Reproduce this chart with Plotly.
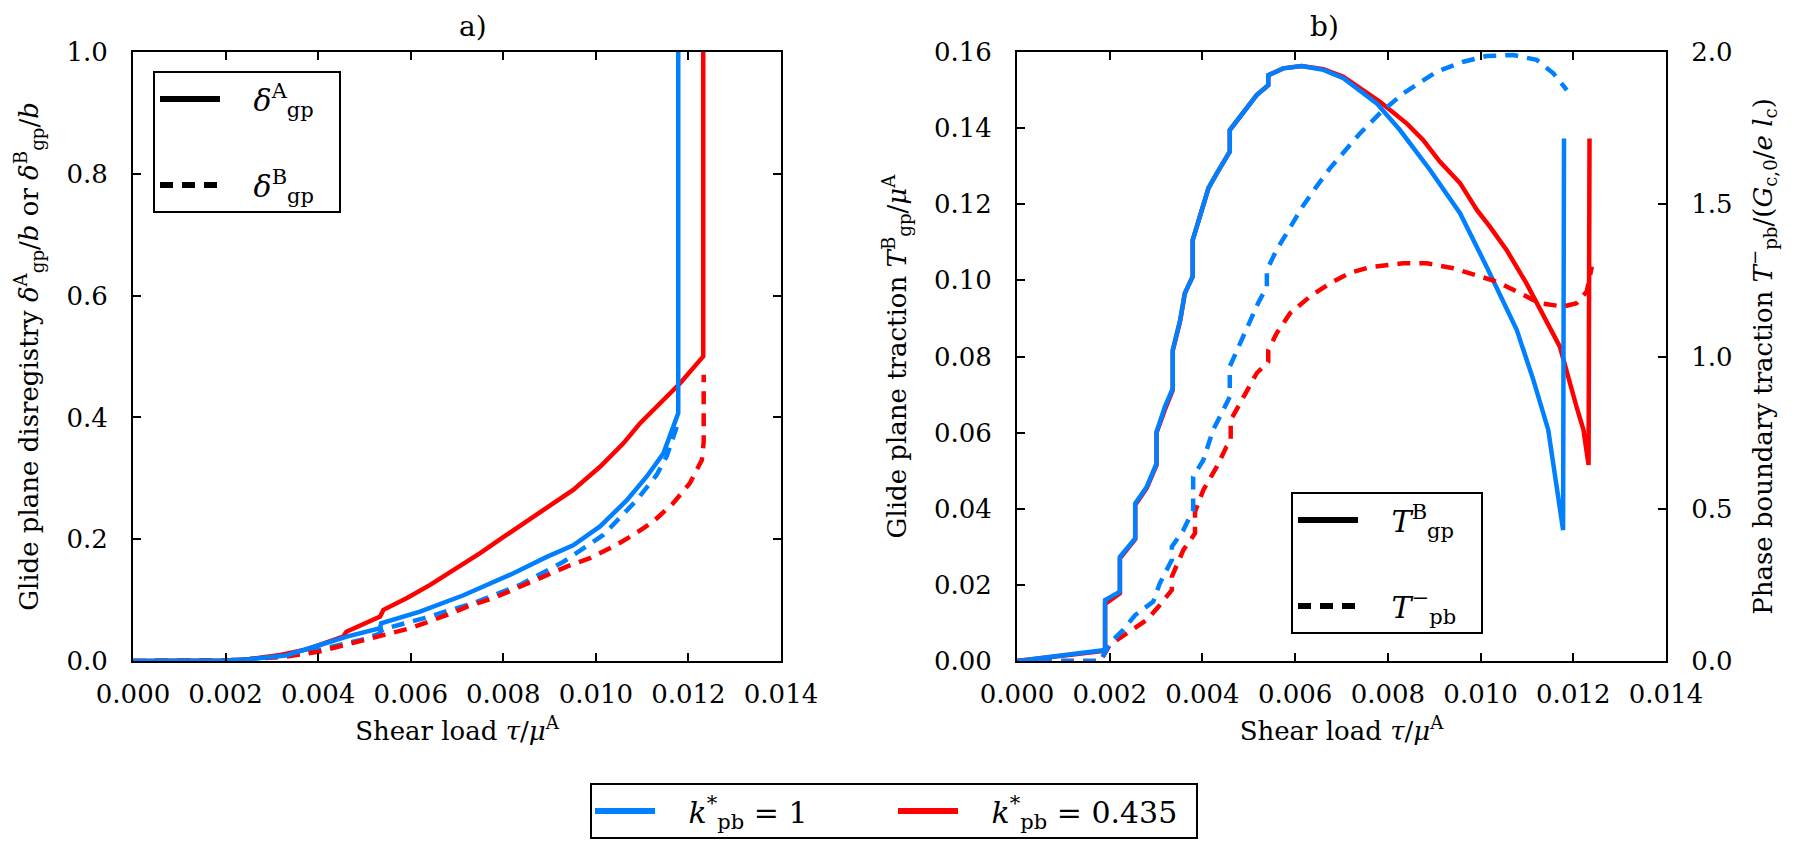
import plotly.graph_objects as go

# ---------------- data: panel a) ----------------
tau_a_blue_A = [0, 0.001, 0.002, 0.0025, 0.003, 0.0033, 0.0039, 0.00462, 0.00534, 0.00536, 0.0062, 0.00714,
                0.00822, 0.00894, 0.00951, 0.01009, 0.01067, 0.0111, 0.01146, 0.01178, 0.01178]
dA_blue = [0, 0.0003, 0.001, 0.003, 0.006, 0.009, 0.023, 0.040, 0.054, 0.062, 0.081, 0.108,
           0.144, 0.171, 0.190, 0.221, 0.264, 0.303, 0.341, 0.407, 1.0]

tau_a_blue_B = [0, 0.001, 0.002, 0.0025, 0.003, 0.0033, 0.004, 0.005, 0.0053, 0.0054, 0.00627, 0.00735,
                0.00836, 0.0093, 0.01016, 0.01088, 0.01131, 0.01153, 0.01175]
dB_blue = [0, 0.0003, 0.001, 0.003, 0.005, 0.008, 0.018, 0.036, 0.044, 0.052, 0.070, 0.095,
           0.125, 0.163, 0.207, 0.264, 0.305, 0.336, 0.385]

tau_a_red_A = [0, 0.001, 0.002, 0.0025, 0.003, 0.00318, 0.00375, 0.00454, 0.00461, 0.00534, 0.00541,
               0.00591, 0.00642, 0.00692, 0.0075, 0.00807, 0.00865, 0.00915, 0.00951, 0.01009, 0.01059,
               0.01095, 0.01139, 0.01182, 0.01225, 0.01232, 0.01232]
dA_red = [0, 0.0003, 0.001, 0.003, 0.007, 0.010, 0.019, 0.040, 0.048, 0.073, 0.084,
          0.103, 0.125, 0.149, 0.177, 0.207, 0.237, 0.264, 0.281, 0.319, 0.357,
          0.390, 0.423, 0.456, 0.494, 0.50, 1.0]

tau_a_red_B = [0, 0.001, 0.002, 0.0025, 0.003, 0.0033, 0.004, 0.005, 0.006, 0.0068, 0.00721, 0.00778,
               0.00879, 0.00937, 0.00987, 0.01038, 0.01081, 0.01124, 0.01167, 0.01203, 0.01229,
               0.01233, 0.01233]
dB_red = [0, 0.0003, 0.001, 0.003, 0.005, 0.007, 0.015, 0.034, 0.054, 0.076, 0.089, 0.103,
          0.136, 0.155, 0.169, 0.188, 0.207, 0.229, 0.259, 0.292, 0.330, 0.36, 0.47]

# ---------------- data: panel b) ----------------
tau_b_blue_T = [0, 0.0019, 0.0019, 0.00222, 0.00222, 0.00255, 0.00255, 0.0028, 0.00301, 0.00301, 0.00319,
                0.00336, 0.00336, 0.00352, 0.00362, 0.00379, 0.00379, 0.00395, 0.00413, 0.00431, 0.00459,
                0.00459, 0.00488, 0.00517, 0.00542, 0.00542, 0.00574, 0.00614, 0.00661, 0.00704, 0.00776,
                0.00826, 0.00891, 0.00956, 0.01013, 0.01078, 0.01114, 0.01146, 0.01178, 0.0118]
T_gp_blue = [0, 0.0029, 0.016, 0.0182, 0.0274, 0.0322, 0.0414, 0.0458, 0.0519, 0.0602, 0.0668,
             0.0716, 0.0817, 0.0896, 0.0966, 0.101, 0.1106, 0.1167, 0.1242, 0.1281, 0.1338,
             0.1395, 0.1443, 0.1487, 0.1513, 0.1539, 0.1557, 0.1563, 0.1553, 0.1531, 0.1465,
             0.1395, 0.1290, 0.1176, 0.1036, 0.0870, 0.0738, 0.0607, 0.0344, 0.1373]

tau_b_red_T = [0, 0.0019, 0.0019, 0.00222, 0.00222, 0.00255, 0.00255, 0.0028, 0.00301, 0.00301, 0.00319,
               0.00336, 0.00336, 0.00352, 0.00362, 0.00379, 0.00379, 0.00395, 0.00413, 0.00431, 0.00459,
               0.00459, 0.00488, 0.00517, 0.00542, 0.00542, 0.00574, 0.00614, 0.00661, 0.00704, 0.00783,
               0.00841, 0.00876, 0.00912, 0.00956, 0.00992, 0.0102, 0.01056, 0.01099, 0.0115, 0.01171,
               0.01207, 0.01222, 0.01233, 0.01235]
T_gp_red = [0, 0.0027, 0.015, 0.0178, 0.027, 0.032, 0.041, 0.0455, 0.0515, 0.060, 0.066,
            0.0712, 0.0815, 0.0894, 0.0966, 0.101, 0.1106, 0.1167, 0.1242, 0.1281, 0.1338,
            0.1395, 0.1443, 0.1487, 0.1513, 0.1539, 0.1557, 0.1563, 0.1555, 0.1535, 0.1469,
            0.1412, 0.1369, 0.1312, 0.1255, 0.1185, 0.1141, 0.1080, 0.0992, 0.0870, 0.0826,
            0.0668, 0.0607, 0.0515, 0.1373]

tau_b_blue_P = [0, 0.0018, 0.002, 0.00229, 0.00255, 0.00294, 0.00308, 0.00334, 0.00334, 0.00359, 0.0038,
                0.0038, 0.00402, 0.00423, 0.00445, 0.00459, 0.00459, 0.00481, 0.00503, 0.0052, 0.00539,
                0.00539, 0.0056, 0.00589, 0.00618, 0.00646, 0.00675, 0.0074, 0.00783, 0.00833, 0.00905,
                0.00963, 0.01013, 0.01071, 0.01121, 0.01157, 0.01186]
T_pb_blue = [0, 0.0, 0.058, 0.102, 0.151, 0.195, 0.255, 0.332, 0.375, 0.430, 0.496,
             0.605, 0.660, 0.759, 0.824, 0.868, 0.967, 1.043, 1.120, 1.175, 1.229,
             1.284, 1.350, 1.426, 1.497, 1.558, 1.618, 1.733, 1.799, 1.864, 1.935,
             1.968, 1.987, 1.99, 1.974, 1.930, 1.875]

tau_b_red_P = [0, 0.0018, 0.002, 0.00237, 0.0028, 0.00305, 0.00334, 0.00334, 0.00359, 0.00384, 0.00384,
               0.00402, 0.00431, 0.00452, 0.00461, 0.00461, 0.00488, 0.00517, 0.00542, 0.00542, 0.0056,
               0.00589, 0.00632, 0.00675, 0.00718, 0.00761, 0.00833, 0.00884, 0.00941, 0.00992, 0.01035,
               0.01085, 0.01128, 0.01178, 0.01207, 0.01229, 0.0124]
T_pb_red = [0, 0.0, 0.053, 0.091, 0.135, 0.178, 0.233, 0.277, 0.365, 0.419, 0.49,
            0.562, 0.638, 0.704, 0.72, 0.791, 0.868, 0.945, 0.983, 1.02, 1.076,
            1.142, 1.197, 1.240, 1.275, 1.293, 1.306, 1.306, 1.290, 1.268, 1.246,
            1.208, 1.175, 1.164, 1.175, 1.213, 1.295]

BLUE = "#0080FF"
RED = "#FF0000"
LW = 4.5
DASH = "13px,9px"
FONT = "DejaVu Serif"

fig = go.Figure()

def add(x, y, color, dash, xa, ya):
    fig.add_trace(go.Scatter(x=x, y=y, mode="lines", xaxis=xa, yaxis=ya, showlegend=False,
                             line=dict(color=color, width=LW, dash=dash), hoverinfo="skip"))

# panel a
add(tau_a_blue_B, dB_blue, BLUE, DASH, "x", "y")
add(tau_a_red_B, dB_red, RED, DASH, "x", "y")
add(tau_a_red_A, dA_red, RED, "solid", "x", "y")
add(tau_a_blue_A, dA_blue, BLUE, "solid", "x", "y")
# panel b
add(tau_b_red_P, T_pb_red, RED, DASH, "x2", "y3")
add(tau_b_blue_P, T_pb_blue, BLUE, DASH, "x2", "y3")
add(tau_b_red_T, T_gp_red, RED, "solid", "x2", "y2")
add(tau_b_blue_T, T_gp_blue, BLUE, "solid", "x2", "y2")

# legend entries
def leg(name, color, dash, legend, group):
    fig.add_trace(go.Scatter(x=[None], y=[None], mode="lines", name=name, legend=legend,
                             legendgroup=group, line=dict(color=color, width=6, dash=dash)))

leg("   <i>δ</i><sup>A</sup><sub>gp</sub>  ", "black", "solid", "legend", "a1")
leg("   <i>δ</i><sup>B</sup><sub>gp</sub>  ", "black", DASH, "legend", "a2")
leg("   <i>T</i><sup>B</sup><sub>gp</sub>  ", "black", "solid", "legend2", "b1")
leg("   <i>T</i><sup>−</sup><sub>pb</sub>  ", "black", DASH, "legend2", "b2")
leg("   <i>k</i><sup>*</sup><sub>pb</sub> = 1", BLUE, "solid", "legend3", "c1")
leg("   <i>k</i><sup>*</sup><sub>pb</sub> = 0.435", RED, "solid", "legend3", "c2")

W, H = 1800, 855
def px(x): return x / W
def py(y): return 1 - y / H

axis_common = dict(showline=True, linecolor="black", linewidth=2, ticks="inside", ticklen=8,
                   tickwidth=1.5, tickcolor="black", showgrid=False, zeroline=False, automargin=False,
                   tickfont=dict(family=FONT, size=26, color="black"))

tfont = dict(family=FONT, size=26, color="black")

fig.update_layout(
    template="none",
    width=W, height=H, margin=dict(l=0, r=0, t=0, b=0, autoexpand=False),
    paper_bgcolor="white", plot_bgcolor="white",
    font=dict(family=FONT, size=26, color="black"),
    xaxis=dict(domain=[px(133), px(781)], range=[0, 0.014], dtick=0.002, tickformat=".3f",
               mirror="ticks", anchor="y", ticklabelstandoff=9,
               title=dict(text="Shear load <i>τ</i>/<i>μ</i><sup>A</sup>", standoff=14, font=tfont),
               **axis_common),
    yaxis=dict(domain=[py(661), py(52)], range=[0, 1.0], dtick=0.2, tickformat=".1f",
               mirror="ticks", anchor="x", ticklabelstandoff=18,
               title=dict(text="Glide plane disregistry <i>δ</i><sup>A</sup><sub>gp</sub>/<i>b</i> or "
                               "<i>δ</i><sup>B</sup><sub>gp</sub>/<i>b</i>", standoff=20, font=tfont),
               **axis_common),
    xaxis2=dict(domain=[px(1017), px(1666)], range=[0, 0.014], dtick=0.002, tickformat=".3f",
                mirror="ticks", anchor="y2", ticklabelstandoff=9,
                title=dict(text="Shear load <i>τ</i>/<i>μ</i><sup>A</sup>", standoff=14, font=tfont),
                **axis_common),
    yaxis2=dict(domain=[py(661), py(52)], range=[0, 0.16], dtick=0.02, tickformat=".2f",
                anchor="x2", ticklabelstandoff=18,
                title=dict(text="Glide plane traction <i>T</i><sup>B</sup><sub>gp</sub>/<i>μ</i><sup>A</sup>",
                           standoff=20, font=tfont), **axis_common),
    yaxis3=dict(overlaying="y2", side="right", anchor="x2", range=[0, 2.0], dtick=0.5, tickformat=".1f",
                ticklabelstandoff=18,
                title=dict(text="Phase boundary traction <i>T</i><sup>−</sup><sub>pb</sub>/(<i>G</i><sub>c,0</sub>/<i>e l</i><sub>c</sub>)",
                           standoff=22, font=tfont), **axis_common),
    legend=dict(x=px(153), y=py(71), xanchor="left", yanchor="top", bgcolor="white",
                bordercolor="black", borderwidth=2, font=dict(family=FONT, size=30),
                itemwidth=60, tracegroupgap=44),
    legend2=dict(x=px(1291), y=py(492), xanchor="left", yanchor="top", bgcolor="white",
                 bordercolor="black", borderwidth=2, font=dict(family=FONT, size=30),
                 itemwidth=60, tracegroupgap=44),
    legend3=dict(x=px(590), y=py(783), xanchor="left", yanchor="top", bgcolor="white",
                 bordercolor="black", borderwidth=2, font=dict(family=FONT, size=30),
                 orientation="h", itemwidth=60, entrywidth=228),
    annotations=[
        dict(text="a)", x=(px(133) + px(781)) / 2, y=py(27), xref="paper", yref="paper",
             yanchor="middle", showarrow=False, font=dict(family=FONT, size=28)),
        dict(text="b)", x=(px(1017) + px(1666)) / 2, y=py(27), xref="paper", yref="paper",
             yanchor="middle", showarrow=False, font=dict(family=FONT, size=28)),
    ],
)

fig.write_html("out.html")
